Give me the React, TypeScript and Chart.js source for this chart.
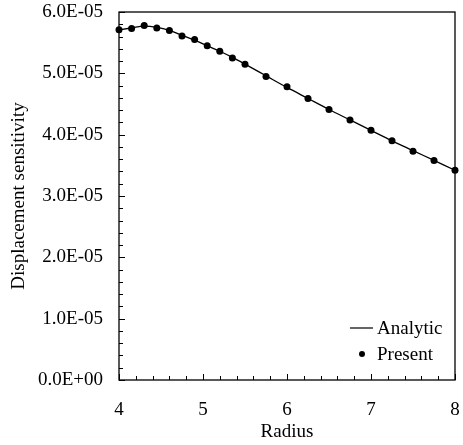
import React, { useEffect, useRef } from "react";
import { Chart, registerables } from "chart.js";

Chart.register(...registerables);

const radius = [4.0, 4.15, 4.3, 4.45, 4.6, 4.75, 4.9, 5.05, 5.2, 5.35, 5.5, 5.75, 6.0, 6.25, 6.5, 6.75, 7.0, 7.25, 7.5, 7.75, 8.0];
const presentValues = [5.71e-5, 5.73e-5, 5.78e-5, 5.74e-5, 5.70e-5, 5.61e-5, 5.55e-5, 5.45e-5, 5.36e-5, 5.25e-5, 5.15e-5, 4.95e-5, 4.78e-5, 4.59e-5, 4.41e-5, 4.24e-5, 4.07e-5, 3.90e-5, 3.73e-5, 3.58e-5, 3.42e-5];
const analyticValues = [5.71e-5, 5.74e-5, 5.77e-5, 5.75e-5, 5.70e-5, 5.62e-5, 5.54e-5, 5.45e-5, 5.36e-5, 5.26e-5, 5.15e-5, 4.96e-5, 4.77e-5, 4.59e-5, 4.41e-5, 4.24e-5, 4.07e-5, 3.90e-5, 3.74e-5, 3.58e-5, 3.42e-5];
const xTicks = [4, 5, 6, 7, 8];
const yTicks = [0, 1e-5, 2e-5, 3e-5, 4e-5, 5e-5, 6e-5];
const xLabel = "Radius";
const yLabel = "Displacement sensitivity";
const legendLabels = ["Analytic", "Present"];

const FONT = "'Liberation Serif', 'Times New Roman', serif";
const FS = 19;

function fmtSci(v: number): string {
  if (Math.abs(v) < 1e-20) return "0.0E+00";
  const exp = Math.floor(Math.log10(Math.abs(v)) + 1e-9);
  const mant = v / Math.pow(10, exp);
  const sign = exp < 0 ? "-" : "+";
  const e = Math.abs(exp).toString().padStart(2, "0");
  return mant.toFixed(1) + "E" + sign + e;
}

const framePlugin = {
  id: "frame",
  beforeDatasetsDraw(chart: any) {
    const { ctx, chartArea, scales } = chart;
    const { left, right, top, bottom } = chartArea;
    ctx.save();
    ctx.strokeStyle = "#000";
    ctx.lineWidth = 1.3;
    ctx.strokeRect(left, top, right - left, bottom - top);
    ctx.lineWidth = 1;
    const ys = scales.y;
    for (let i = 0; i <= 30; i++) {
      const v = i * 2e-6;
      const py = Math.round(ys.getPixelForValue(v)) + 0.5;
      const len = i % 5 === 0 ? 6 : 4;
      ctx.beginPath();
      ctx.moveTo(left, py);
      ctx.lineTo(left + len, py);
      ctx.stroke();
    }
    const xs = scales.x;
    for (let i = 0; i <= 20; i++) {
      const v = 4 + i * 0.2;
      const px = Math.round(xs.getPixelForValue(v)) + 0.5;
      const len = i % 5 === 0 ? 6 : 4;
      ctx.beginPath();
      ctx.moveTo(px, bottom);
      ctx.lineTo(px, bottom - len);
      ctx.stroke();
    }
    ctx.restore();
  },
  afterDraw(chart: any) {
    const { ctx, chartArea } = chart;
    const right = chartArea.right;
    const bottom = chartArea.bottom;
    ctx.save();
    ctx.fillStyle = "#000";
    ctx.strokeStyle = "#000";
    ctx.font = FS + "px " + FONT;
    ctx.textBaseline = "middle";
    ctx.textAlign = "left";
    const textX = right - 78;
    const y1 = bottom - 52;
    const y2 = bottom - 26;
    ctx.lineWidth = 1.2;
    ctx.beginPath();
    ctx.moveTo(textX - 27, y1);
    ctx.lineTo(textX - 4, y1);
    ctx.stroke();
    ctx.fillText(legendLabels[0], textX, y1 + 1);
    ctx.beginPath();
    ctx.arc(textX - 15, y2, 3, 0, Math.PI * 2);
    ctx.fill();
    ctx.fillText(legendLabels[1], textX, y2 + 1);
    ctx.restore();
  },
};

export default function App() {
  const ref = useRef<HTMLCanvasElement | null>(null);
  useEffect(() => {
    if (!ref.current) return;
    const chart = new Chart(ref.current, {
      type: "scatter",
      data: {
        datasets: [
          {
            label: legendLabels[0],
            data: radius.map((x, i) => ({ x, y: analyticValues[i] })),
            showLine: true,
            borderColor: "#000",
            borderWidth: 1.3,
            pointRadius: 0,
            cubicInterpolationMode: "monotone",
            clip: false,
          },
          {
            label: legendLabels[1],
            data: radius.map((x, i) => ({ x, y: presentValues[i] })),
            showLine: false,
            backgroundColor: "#000",
            borderColor: "#000",
            pointRadius: 3.5,
            pointBorderWidth: 0,
            clip: false,
          },
        ],
      },
      options: {
        animation: false,
        responsive: true,
        maintainAspectRatio: false,
        layout: { padding: { left: 0, right: 8, top: 12, bottom: 0 } },
        plugins: { legend: { display: false }, tooltip: { enabled: false } },
        scales: {
          x: {
            type: "linear",
            min: 4,
            max: 8,
            afterBuildTicks: (s: any) => {
              s.ticks = xTicks.map((v) => ({ value: v }));
            },
            afterFit: (s: any) => {
              s.height = 65;
              s.paddingLeft = 0;
              s.paddingRight = 0;
            },
            grid: { display: false, drawTicks: false },
            border: { display: false },
            ticks: {
              color: "#000",
              font: { family: FONT, size: FS },
              padding: 19,
              maxRotation: 0,
            },
            title: {
              display: true,
              text: xLabel,
              color: "#000",
              font: { family: FONT, size: FS },
              padding: { top: 0, bottom: 2 },
            },
          },
          y: {
            type: "linear",
            min: 0,
            max: 6e-5,
            afterBuildTicks: (s: any) => {
              s.ticks = yTicks.map((v) => ({ value: v }));
            },
            afterFit: (s: any) => {
              s.width = 119;
              s.paddingTop = 0;
              s.paddingBottom = 0;
            },
            grid: { display: false, drawTicks: false },
            border: { display: false },
            ticks: {
              color: "#000",
              font: { family: FONT, size: FS },
              padding: 16,
              callback: (v: any) => fmtSci(Number(v)),
            },
            title: {
              display: true,
              text: yLabel,
              color: "#000",
              font: { family: FONT, size: FS },
              padding: { top: 8, bottom: 0 },
            },
          },
        },
      },
      plugins: [framePlugin],
    });
    return () => chart.destroy();
  }, []);
  return (
    <div style={{ position: "absolute", left: 0, top: 0, width: 463, height: 445, background: "#fff" }}>
      <canvas ref={ref} />
    </div>
  );
}
